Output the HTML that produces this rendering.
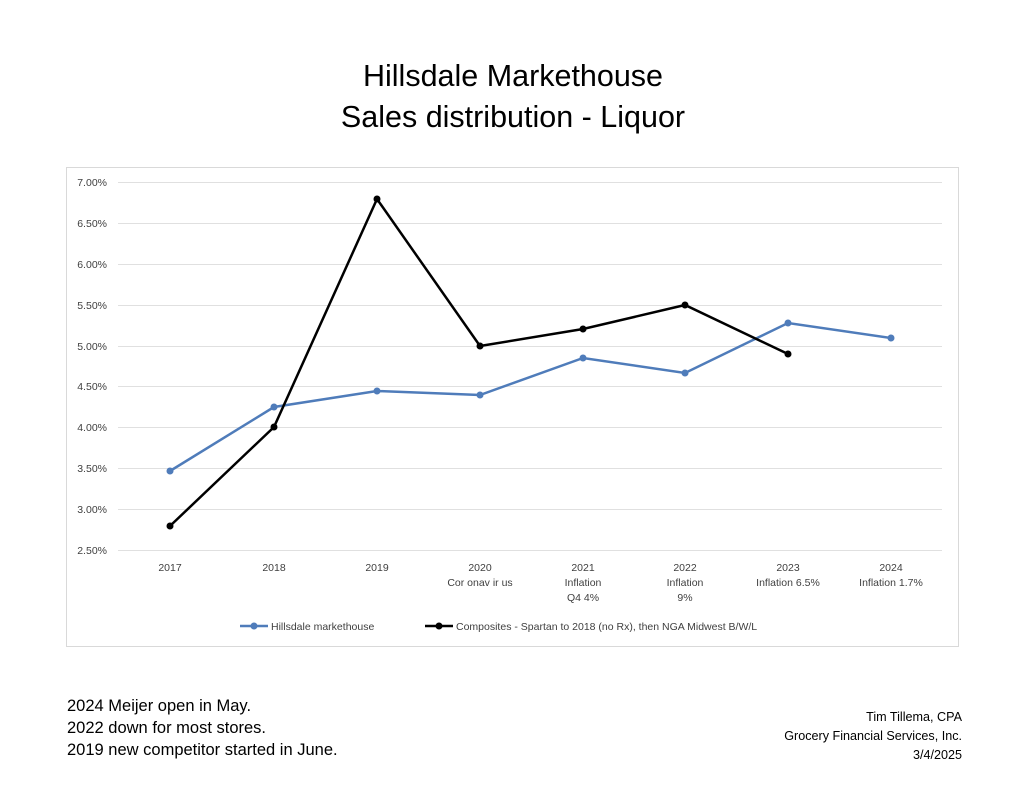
<!DOCTYPE html>
<html><head><meta charset="utf-8"><style>
body{margin:0;background:#fff;font-family:"Liberation Sans",sans-serif;}
</style></head><body>
<svg width="1024" height="791" xmlns="http://www.w3.org/2000/svg" font-family="Liberation Sans, sans-serif">
<rect width="1024" height="791" fill="#fff"/>
<text x="513" y="86" font-size="30.5" text-anchor="middle" fill="#000">Hillsdale Markethouse</text>
<text x="513" y="127" font-size="30.5" text-anchor="middle" fill="#000">Sales distribution - Liquor</text>
<rect x="66.5" y="167.5" width="892" height="479" fill="none" stroke="#d9d9d9"/>
<g stroke="#e0e0e0" stroke-width="1">
<line x1="118" x2="942" y1="182.5" y2="182.5"/><line x1="118" x2="942" y1="223.5" y2="223.5"/>
<line x1="118" x2="942" y1="264.5" y2="264.5"/><line x1="118" x2="942" y1="305.5" y2="305.5"/>
<line x1="118" x2="942" y1="346.5" y2="346.5"/><line x1="118" x2="942" y1="386.5" y2="386.5"/>
<line x1="118" x2="942" y1="427.5" y2="427.5"/><line x1="118" x2="942" y1="468.5" y2="468.5"/>
<line x1="118" x2="942" y1="509.5" y2="509.5"/><line x1="118" x2="942" y1="550.5" y2="550.5"/>
</g>
<g font-size="10.5" fill="#404040" text-anchor="end">
<text x="107" y="186">7.00%</text><text x="107" y="227">6.50%</text><text x="107" y="268">6.00%</text>
<text x="107" y="309">5.50%</text><text x="107" y="350">5.00%</text><text x="107" y="390">4.50%</text>
<text x="107" y="431">4.00%</text><text x="107" y="472">3.50%</text><text x="107" y="513">3.00%</text>
<text x="107" y="554">2.50%</text>
</g>
<g font-size="10.5" fill="#404040" text-anchor="middle">
<text x="170" y="571">2017</text><text x="274" y="571">2018</text><text x="377" y="571">2019</text>
<text x="480" y="571">2020</text><text x="480" y="586">Cor onav ir us</text>
<text x="583" y="571">2021</text><text x="583" y="586">Inflation</text><text x="583" y="601">Q4 4%</text>
<text x="685" y="571">2022</text><text x="685" y="586">Inflation</text><text x="685" y="601">9%</text>
<text x="788" y="571">2023</text><text x="788" y="586">Inflation 6.5%</text>
<text x="891" y="571">2024</text><text x="891" y="586">Inflation 1.7%</text>
</g>
<polyline fill="none" stroke="#4f7cba" stroke-width="2.5" points="170,471 274,407 377,391 480,395 583,358 685,373 788,323 891,338"/>
<g fill="#4f7cba"><circle cx="170" cy="471" r="3.5"/><circle cx="274" cy="407" r="3.5"/><circle cx="377" cy="391" r="3.5"/><circle cx="480" cy="395" r="3.5"/><circle cx="583" cy="358" r="3.5"/><circle cx="685" cy="373" r="3.5"/><circle cx="788" cy="323" r="3.5"/><circle cx="891" cy="338" r="3.5"/></g>
<polyline fill="none" stroke="#000" stroke-width="2.5" points="170,526 274,427 377,199 480,346 583,329 685,305 788,354"/>
<g fill="#000"><circle cx="170" cy="526" r="3.5"/><circle cx="274" cy="427" r="3.5"/><circle cx="377" cy="199" r="3.5"/><circle cx="480" cy="346" r="3.5"/><circle cx="583" cy="329" r="3.5"/><circle cx="685" cy="305" r="3.5"/><circle cx="788" cy="354" r="3.5"/></g>
<line x1="240" x2="268" y1="626" y2="626" stroke="#4f7cba" stroke-width="2.5"/><circle cx="254" cy="626" r="3.5" fill="#4f7cba"/>
<text x="271" y="630" font-size="10.5" fill="#404040">Hillsdale markethouse</text>
<line x1="425" x2="453" y1="626" y2="626" stroke="#000" stroke-width="2.5"/><circle cx="439" cy="626" r="3.5" fill="#000"/>
<text x="456" y="630" font-size="10.5" fill="#404040">Composites - Spartan to 2018 (no Rx), then NGA Midwest B/W/L</text>
<g font-size="16.5" fill="#000">
<text x="67" y="711"> 2024 Meijer open in May.</text>
<text x="67" y="733">2022 down for most stores.</text>
<text x="67" y="755">2019 new competitor started in June.</text>
</g>
<g font-size="12.6" fill="#000" text-anchor="end">
<text x="962" y="721">Tim Tillema, CPA</text>
<text x="962" y="740">Grocery Financial Services, Inc.</text>
<text x="962" y="759">3/4/2025</text>
</g>
</svg>
</body></html>
